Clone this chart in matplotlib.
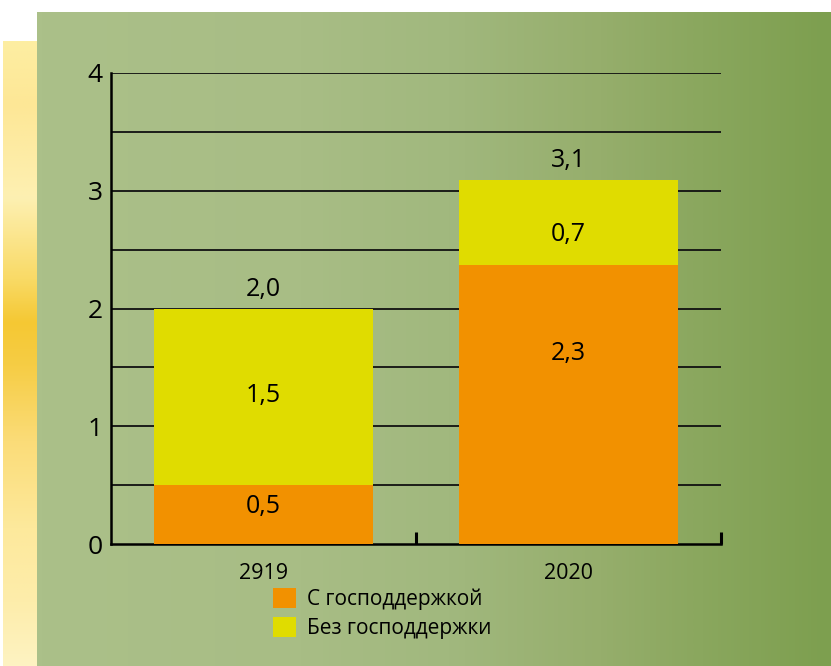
import numpy as np
import matplotlib
matplotlib.use('Agg')
import matplotlib.pyplot as plt
from matplotlib.colors import LinearSegmentedColormap

plt.rcParams['font.family'] = ['Open Sans', 'DejaVu Sans']

# data
years = ['2919', '2020']
with_support = [0.50, 2.37]
without_support = [1.50, 0.72]
totals_txt = ['2,0', '3,1']
with_txt = ['0,5', '2,3']
without_txt = ['1,5', '0,7']
series_names = ['С господдержкой', 'Без господдержки']
yticks = [0, 1, 2, 3, 4]

orange = '#f29100'
yellow = '#e0dc00'

fig = plt.figure(figsize=(8.31, 6.66), dpi=100, facecolor='white')

# background panel (green gradient + yellow strip on the left)
bg = fig.add_axes([0, 0, 1, 1], zorder=0)
bg.set_xlim(0, 831)
bg.set_ylim(666, 0)
bg.axis('off')
green = LinearSegmentedColormap.from_list('g', [
    (0.0, '#abc089'), (0.33, '#a8bd85'), (0.52, '#a1b87e'),
    (0.71, '#96ae6c'), (0.84, '#8aa75e'), (1.0, '#7d9f4f')])
bg.imshow(np.linspace(0, 1, 256)[None, :], cmap=green, aspect='auto',
          extent=[37, 831, 666, 12], interpolation='bilinear')
ystrip = LinearSegmentedColormap.from_list('y', [
    (0.0, '#fdeea2'), (0.1, '#fde796'), (0.25, '#fdf0b2'), (0.38, '#f9da66'),
    (0.45, '#f5c833'), (0.52, '#f6cd45'), (0.64, '#fbdc78'), (0.78, '#fde99c'),
    (0.9, '#fdedab'), (1.0, '#fef3c2')])
bg.imshow(np.linspace(0, 1, 256)[:, None], cmap=ystrip, aspect='auto',
          extent=[3, 37, 666, 41], interpolation='bilinear')

ax = fig.add_axes([111/831, 122/666, 610/831, 471/666], zorder=1)
ax.patch.set_alpha(0)

x = np.arange(len(years))
w = 0.72
ax.bar(x, with_support, w, color=orange, zorder=3, label=series_names[0])
ax.bar(x, without_support, w, bottom=with_support, color=yellow, zorder=3,
       label=series_names[1])

# label nudges (labels in the original are not exactly centred)
with_shift = [0.07, 0.43]
without_shift = [0.01, -0.10]
for i in range(len(years)):
    top = with_support[i] + without_support[i]
    ax.annotate(totals_txt[i], (x[i], top), xytext=(0, 5), textcoords='offset points',
                ha='center', va='bottom', fontsize=18)
    ax.text(x[i], with_support[i] / 2 + with_shift[i], with_txt[i],
            ha='center', va='center', fontsize=18)
    ax.text(x[i], with_support[i] + without_support[i] / 2 + without_shift[i],
            without_txt[i], ha='center', va='center', fontsize=18)

ax.set_xlim(-0.5, 1.5)
ax.set_ylim(0, 4)
for y in np.arange(0.5, 4.01, 0.5):
    ax.axhline(y, color='#111111', lw=1.3, zorder=1)

ax.set_yticks(yticks)
ax.set_yticklabels([str(t) for t in yticks], fontsize=19)
ax.tick_params(axis='y', length=0, pad=6)

ax.set_xticks([0.5, 1.5])
ax.set_xticklabels(['', ''])
ax.tick_params(axis='x', which='major', direction='in', length=9, width=2.2, color='black')
ax.set_xticks(x, minor=True)
ax.set_xticklabels(years, minor=True, fontsize=15.5)
ax.tick_params(axis='x', which='minor', length=0, pad=14)

for s in ['top', 'right']:
    ax.spines[s].set_visible(False)
ax.spines['left'].set_linewidth(1.8)
ax.spines['bottom'].set_linewidth(1.8)

ax.legend(loc='upper left', bbox_to_anchor=(162/610, -0.094), frameon=False,
          fontsize=15, handlelength=1.1, handleheight=1.05, labelspacing=0.35,
          handletextpad=0.55, borderaxespad=0, borderpad=0)

fig.savefig('out.png', dpi=100, facecolor='white')
